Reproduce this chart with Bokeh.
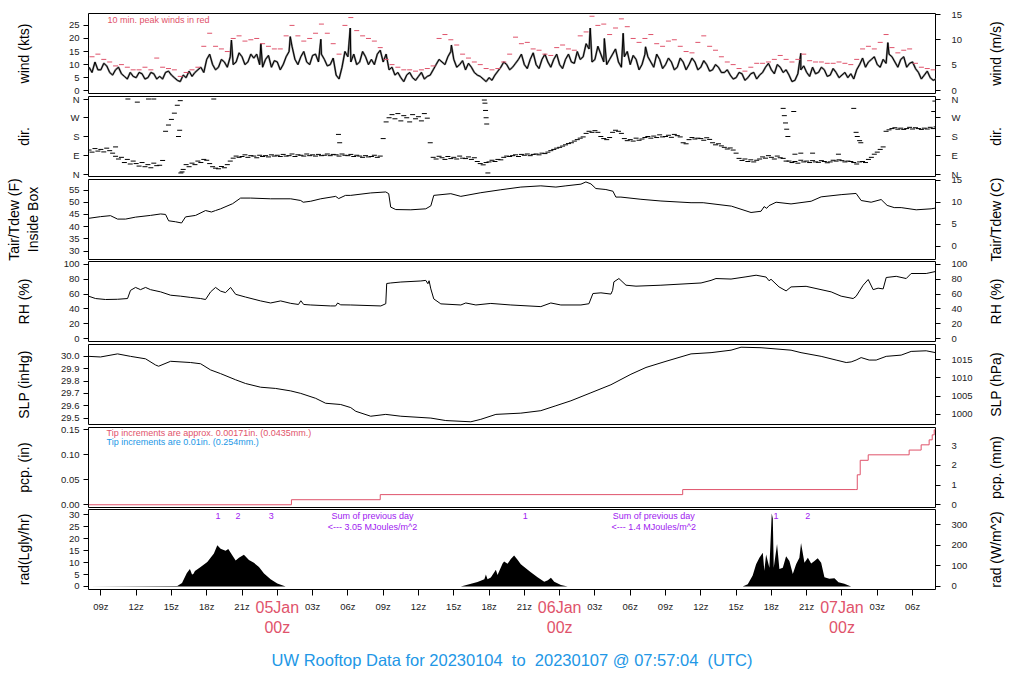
import numpy as np
from bokeh.plotting import figure
from bokeh.models import Range1d, LinearAxis, FixedTicker, Label
from bokeh.layouts import column, row
from bokeh.embed import file_html
from bokeh.resources import INLINE

FONT = "Liberation Sans"
RED = "#DF536B"
BLUE = "#2297E6"
PURPLE = "#A020F0"

# time axis: hours since 2023-01-04 00z
T_START, T_END = 7.95, 79.95

# ---------------- data ----------------
# wind (kts), every 0.5 h from 08z Jan 4
wind_t0 = 8.0
wind_kts = [9, 11, 8, 9.5, 6, 9, 5.5, 7, 5, 6.5, 5, 6.5, 5.5, 7, 6, 4, 6, 7.5, 7, 9,
            12, 10, 9, 11, 13, 11, 13, 11, 12.5, 10, 12, 9, 11, 10, 15, 12, 13, 11, 13.5, 11,
            12, 10, 6, 9, 13, 14, 11, 13, 12, 14, 11, 8, 6, 5, 6, 5, 5.5, 4.5, 6, 10,
            11, 13, 12, 10, 8, 9, 6, 4.5, 5, 6, 9, 10, 9, 12, 10, 12, 10, 12, 11, 12,
            10, 12, 11, 15, 13, 16, 12, 14, 10, 14, 11, 13, 10, 12, 10, 13, 9, 12, 10, 11,
            9, 11, 10, 11, 9, 10, 8, 9, 7, 6, 5, 6.5, 5, 7, 6, 9, 8, 10, 7, 6,
            4, 8, 7, 9, 7, 8, 6, 7, 6, 5, 4.5, 10, 9, 12, 10, 12, 14, 11, 12, 9,
            11, 7, 6, 5, 4.5]
# wind (kts) at the quarter hours in between (8:15z, 8:45z, ...)
wind_q = [7, 8, 10.5, 7, 8, 6.5, 4.5, 5.5, 7, 4.5, 7, 4.5, 4.5, 7.5, 5, 3.5,
          5, 5.5, 8, 7, 14, 8, 12, 9, 10, 14.5, 10, 14, 14, 9, 13.5, 11.5,
          8, 13, 17, 10, 15, 10, 14, 14, 9.5, 12.5, 4.5, 15, 11, 10, 15, 10,
          10, 15.5, 14, 9, 7, 3.5, 7, 4, 7, 5.5, 8, 12, 10, 15, 9, 11.5,
          10.5, 7, 5.5, 3.5, 4, 7.5, 11, 8, 10.5, 14, 8.5, 14.5, 8.5, 14, 9, 14,
          8.5, 14, 10.5, 12, 18, 11, 17, 11, 12, 16, 9, 15, 13.5, 8, 14, 11,
          14, 8.5, 12.5, 8, 12.5, 8, 12.5, 8, 11.5, 7.5, 10, 7, 8, 4.5, 7, 4,
          6.5, 4.5, 7, 10.5, 6.5, 9, 8, 3.5, 6.5, 9.5, 5.5, 6.5, 9, 5.5, 8.5, 5,
          7, 6.5, 8, 12.5, 11, 13, 9, 10.5, 13, 9, 13, 10.5, 8.5, 4.5, 7.5, 4]
# short gust spikes in the wind trace (time h, kts)
spike_t = [20.1, 22.6, 25.1, 27.7, 30.2, 38.8, 50.6, 51.8, 53.4, 55.3, 68.5, 75.9]
spike_kts = [19.4, 18.0, 20.7, 19.7, 24.0, 17.5, 24.0, 20.0, 22.0, 16.8, 14.3, 18.4]
# 10-min peak winds (kts), every 0.5 h from 08:15z Jan 4
peak_t0 = 8.25
peak_kts = [13, 14, 12, 11, 9.5, 10, 9, 8, 8, 9, 8, 12.5, 9, 8.5, 8, 5.5, 7, 8, 9, 17,
            22, 17, 16, 15, 20, 21, 19, 19.5, 20, 18, 17, 16, 16, 21, 25, 21, 19, 20, 22, 25.5,
            22, 18, 14, 25, 28, 23, 21, 20, 19, 16.5, 12, 10, 9, 8, 8, 7.5, 8, 8.5, 9.5, 20,
            21.5, 19.5, 17.5, 14, 12.5, 11, 10, 8.5, 8, 8.5, 11, 14, 20.5, 18, 18.5, 16, 15.5, 14, 13.5, 16.5,
            17.5, 16, 15.5, 21, 22.5, 28.5, 25, 25.5, 21.5, 24, 27.5, 24.5, 20, 18.5, 20, 21.5, 18, 17, 19, 19.5,
            17, 15, 14.5, 18.5, 21, 17, 15.5, 13, 11, 10, 8.5, 7.5, 9, 10.5, 10.5, 11, 12, 13.5, 12, 11,
            12, 14, 11.5, 11, 11, 10.5, 10.5, 11, 10.5, 10, 12, 16, 17, 16, 18.5, 21.5, 16.5, 14.5, 15.5, 16,
            10.5, 9, 8.5, 8]

# wind direction (deg), every 0.25 h from 08z Jan 4
dir_t0 = 8.0
dir_deg = [115, 105, 122, 110, 118, 106, 124, 112, 100, 85, 72, 80, 55, 70, 48, 62,
           50, 38, 55, 35, 45, 30, 52, 40, 42, 65, 205, 235, 262, 292, 330, 352,
           22, 45, 35, 52, 45, 62, 55, 70, 66, 50, 35, 28, 25, 36, 30, 45,
           62, 76, 86, 80, 84, 92, 80, 88, 86, 78, 90, 84, 88, 82, 92, 86,
           90, 84, 94, 86, 88, 96, 84, 92, 90, 86, 96, 88, 92, 86, 94, 88,
           90, 96, 88, 94, 92, 86, 96, 90, 88, 94, 84, 90, 86, 80, 88, 82,
           84, 90, 80, 86, 170, 250, 270, 285, 265, 290, 255, 280, 270, 250, 285, 265,
           275, 255, 290, 268, 150, 80, 72, 85, 78, 70, 84, 74, 80, 72, 86, 76,
           74, 82, 70, 78, 60, 50, 44, 55, 58, 66, 60, 70, 68, 80, 86, 84,
           88, 92, 84, 94, 90, 96, 88, 94, 96, 92, 100, 98, 105, 112, 118, 124,
           128, 134, 140, 146, 150, 158, 165, 172, 178, 195, 205, 200, 208, 200, 180, 170,
           165, 175, 200, 210, 205, 195, 170, 160, 165, 158, 172, 162, 168, 175, 180, 172,
           182, 175, 188, 178, 180, 186, 176, 190, 184, 178, 150, 145, 165, 175, 168, 172,
           170, 162, 174, 166, 150, 140, 145, 135, 128, 120, 125, 115, 100, 75, 65, 72,
           60, 68, 58, 66, 72, 82, 76, 88, 80, 72, 86, 78, 75, 62, 62, 55,
           60, 52, 66, 58, 62, 55, 64, 58, 56, 64, 60, 54, 58, 66, 62, 68,
           64, 58, 62, 60, 55, 48, 58, 60, 55, 70, 80, 95, 105, 118, 130, 205,
           212, 218, 222, 215, 220, 214, 218, 224, 216, 222, 218, 214, 220, 216, 224, 218,
           226]
dir_out_t = [10.25, 11.3, 12.1, 13.05, 13.5, 15.6, 15.7, 15.8, 15.9, 18.6, 29.2, 29.3,
             41.6, 41.65, 41.7, 41.75, 41.8, 41.9, 67.0, 67.1, 67.2, 67.3, 67.4, 67.9,
             68.0, 68.5, 69.5, 71.7, 73.0, 73.2, 73.3, 73.5, 73.6, 79.8, 79.9]
dir_out_deg = [130, 360, 345, 360, 360, 180, 210, 5, 10, 360, 190, 150,
               355, 340, 305, 270, 240, 5, 315, 280, 245, 215, 180, 300,
               95, 100, 100, 95, 315, 200, 180, 160, 150, 300, 350]

# air temperature inside box (F)
temp_t = [7.95, 8.97, 9.82, 10.42, 11.1, 11.95, 13.22, 14.08, 14.5, 14.76, 15.35, 15.86, 16.2,
          17.05, 17.9, 18.4, 18.75, 19.18, 20.2, 20.88, 21.73, 23.43, 25.14, 25.99, 26.2, 26.84,
          27.69, 28.96, 29.22, 29.8, 30.24, 31.94, 33.22, 33.47, 33.64, 34.07, 35.35, 36.62, 37.05,
          37.3, 38.75, 39.6, 41.3, 43.0, 44.7, 46.4, 47.68, 48.53, 49.81, 50.23, 50.66, 51.08,
          51.93, 52.53, 52.78, 53.21, 54.91, 56.61, 59.17, 60.2, 62.6, 64.27, 65.12, 65.38, 65.6,
          65.8, 66.4, 67.67, 69.38, 70.23, 71.93, 73.2, 73.63, 74.48, 75.33, 75.84, 76.44, 77.03,
          78.31, 79.58, 79.95]
temp_f = [43.4, 44.1, 44.5, 43.1, 43.1, 43.9, 44.6, 45.2, 45.0, 42.4, 42.0, 41.5, 44.0,
          44.6, 46.6, 46.0, 46.6, 47.3, 49.4, 51.7, 51.7, 51.4, 51.4, 50.7, 50.0, 50.4,
          51.4, 52.4, 51.5, 52.8, 52.8, 53.8, 54.2, 53.5, 48.0, 47.0, 46.9, 47.3, 48.5,
          52.8, 53.5, 52.4, 53.9, 55.1, 56.2, 56.7, 56.2, 56.7, 57.4, 58.3, 57.5, 55.6,
          55.2, 54.5, 52.1, 52.1, 51.2, 50.5, 49.8, 49.8, 48.4, 45.8, 46.3, 48.2, 47.5,
          48.6, 50.0, 49.3, 50.4, 52.2, 53.1, 53.6, 50.7, 50.0, 51.1, 48.7, 47.8, 47.8,
          46.9, 47.3, 47.6]

# relative humidity (%)
rh_t = [7.95, 8.55, 9.4, 10.42, 11.27, 11.52, 11.95, 12.37, 12.8, 13.22, 14.08, 14.93, 15.78,
        16.63, 17.48, 17.9, 18.33, 18.75, 19.18, 19.6, 20.03, 20.46, 21.3, 22.58, 23.43, 24.28,
        25.14, 25.8, 26.0, 26.24, 26.84, 28.54, 28.96, 29.13, 29.39, 30.24, 32.8, 33.22, 33.3,
        33.64, 34.5, 36.2, 36.62, 36.8, 36.9, 37.05, 37.3, 37.9, 39.6, 40.02, 40.88, 42.15,
        43.85, 46.4, 47.25, 48.1, 49.81, 50.49, 50.83, 51.51, 52.36, 52.5, 52.61, 53.04, 53.64,
        54.49, 56.61, 60.02, 60.87, 61.29, 62.57, 63.84, 64.7, 65.55, 65.8, 65.97, 66.65,
        67.25, 67.67, 68.95, 71.08, 71.93, 72.95, 73.2, 73.8, 74.23, 74.65, 75.07, 75.5, 75.76,
        76.61, 77.46, 77.88, 79.16, 79.95]
rh_pct = [57.2, 54, 52.7, 53, 54, 65, 69, 66, 69, 66, 63, 58.5, 57.2,
          55.5, 54, 52.7, 63, 69, 64, 62, 69, 59.7, 56, 50.8, 48, 50.8,
          47.5, 46, 51, 46, 45.3, 44, 44, 48, 45.5, 45.3, 44, 47, 74.3,
          75, 76.3, 77.7, 78.5, 74, 78, 67, 53.5, 46.8, 45.3, 48, 45.3, 47.4,
          45.3, 43.1, 48, 45.3, 45.3, 47, 60.8, 61.7, 60, 65, 76.5, 81, 72,
          70.7, 72, 75, 78.5, 81, 80.3, 83.3, 85.5, 83, 78, 80, 69.7,
          64.3, 69.7, 70.5, 63, 57.2, 54, 57, 72, 79.7, 66, 68, 67, 82.4,
          84, 81, 87.8, 87.8, 90.5]

# sea level pressure (inHg)
slp_t = [7.95, 8.97, 10.42, 11.52, 12.8, 13.65, 13.91, 14.93, 16.63, 17.48, 18.33, 19.18, 20.46,
         21.3, 22.58, 23.86, 25.14, 25.99, 27.26, 28.11, 29.39, 30.24, 30.67, 31.94, 33.22, 34.5,
         37.05, 38.32, 40.45, 41.3, 42.58, 44.7, 46.4, 47.68, 48.96, 50.66, 52.36, 54.06, 55.34,
         57.04, 59.17, 60.87, 62.57, 63.42, 65.12, 67.67, 68.52, 70.23, 71.5, 72.36, 72.78, 73.2,
         73.63, 74.31, 74.91, 75.76, 77.03, 77.88, 79.16, 79.95]
slp_inhg = [30.0, 29.995, 30.02, 30.0, 29.98, 29.93, 29.92, 29.96, 29.95, 29.94, 29.89, 29.86, 29.81,
            29.78, 29.75, 29.74, 29.72, 29.70, 29.66, 29.62, 29.61, 29.585, 29.555, 29.515, 29.53, 29.515,
            29.5, 29.48, 29.47, 29.49, 29.53, 29.54, 29.56, 29.60, 29.64, 29.705, 29.77, 29.855, 29.91,
            29.96, 30.02, 30.03, 30.05, 30.074, 30.07, 30.05, 30.03, 30.0, 29.97, 29.95, 29.955, 29.97,
            29.99, 29.97, 29.97, 30.0, 30.01, 30.04, 30.045, 30.03]

# accumulated precipitation (in)
pcp_t = [7.95, 25.2, 32.75, 58.46, 73.12, 73.3, 73.55, 74.23, 77.71, 78.73, 79.41, 79.67, 79.84, 79.95]
pcp_in = [0.0, 0.0101, 0.0203, 0.0304, 0.0304, 0.06, 0.089, 0.1, 0.1095, 0.12, 0.13, 0.14, 0.15, 0.15]

# solar radiation (Langley/hr)
rad_t = [7.95, 15.5, 15.9, 16.3, 16.57, 16.75, 16.86, 17.0, 17.48, 18.05, 18.61, 18.9, 19.18, 19.6,
         19.83, 20.17, 20.46, 20.74, 21.16, 21.59, 22.01, 22.44, 22.87, 23.43, 24.0, 24.71,
         39.6, 41.02, 41.6, 41.73, 41.87, 42.15, 42.58, 42.72, 43.15, 43.28, 43.57, 43.85, 44.13,
         44.42, 44.7, 44.99, 45.55, 46.12, 46.69, 47.0, 47.26, 47.54, 48.11, 48.68,
         63.56, 63.99, 64.41, 64.7, 64.98, 65.27, 65.4, 65.55, 65.83, 66.03, 66.12, 66.2, 66.48,
         66.68, 66.97, 67.25, 67.53, 67.82, 68.1, 68.38, 68.52, 68.81, 69.1, 69.38, 69.66, 69.94,
         70.23, 70.51, 70.93, 71.36, 71.7, 72.2, 72.78, 79.95]
rad_ly = [0.0, 0.2, 1.5, 5.5, 7.3, 5.0, 5.2, 6.5, 8.2, 10.3, 13.8, 17.3, 15.8, 15.0,
          15.7, 13.1, 10.9, 12.0, 13.3, 11.1, 9.9, 8.2, 5.4, 3.0, 1.3, 0.0,
          0.0, 1.9, 3.0, 5.0, 3.0, 3.8, 7.0, 4.8, 9.6, 10.5, 9.5, 11.5, 13.0,
          11.2, 9.3, 8.2, 6.0, 3.9, 2.0, 2.6, 3.7, 2.0, 0.6, 0.0,
          0.0, 0.9, 4.6, 9.3, 12.0, 14.1, 6.6, 13.4, 7.9, 30.6, 28.5, 7.9, 17.8,
          7.3, 7.9, 12.7, 10.7, 5.2, 9.3, 12.0, 18.2, 10.0, 12.0, 9.6, 10.7, 11.8,
          10.0, 3.9, 3.2, 3.5, 1.8, 1.1, 0.0, 0.0]
rad_mark_t = [18.95, 20.65, 23.49, 45.07, 66.4, 69.1]
rad_mark_txt = ["1", "2", "3", "1", "1", "2"]
day_sum_t = [32.1, 56.0]
day_sum_mj = ["3.05", "1.4"]

# x-axis ticks
hour_ticks = list(range(9, 79, 3))
day_ticks = [0, 24, 48, 72]
day_names = ["04Jan", "05Jan", "06Jan", "07Jan"]
NB = "\u00a0"
TITLE = ("UW Rooftop Data for 20230104" + NB + " to " + NB + "20230107 @ 07:57:04 "
         + NB + "(UTC)")

# ---------------- layout helpers ----------------
FRAME_W, FRAME_H = 847, 80
PX_PER_H = FRAME_W / (T_END - T_START)
PAD = 7          # extra room above/below each frame so edge tick labels are not clipped
MAIN_RIGHT = 45  # right border of a panel (tick labels)
SIDE_W = 43      # strip that carries the right-hand titles
xr = Range1d(T_START, T_END)


def style_axis(ax, ticks, labels, standoff, title=None, title_standoff=0):
    ax.ticker = FixedTicker(ticks=ticks)
    ax.major_label_overrides = {t: s for t, s in zip(ticks, labels)}
    ax.major_tick_out = 5
    ax.major_tick_in = 0
    ax.minor_tick_out = 0
    ax.minor_tick_in = 0
    ax.major_tick_line_color = "black"
    ax.axis_line_color = None
    ax.major_label_text_font = FONT
    ax.major_label_text_font_size = "9.5px"
    ax.major_label_text_color = "#222222"
    ax.major_label_standoff = standoff
    if title:
        ax.axis_label = title
        ax.axis_label_standoff = title_standoff
        ax.axis_label_text_font = FONT
        ax.axis_label_text_font_size = "14px"
        ax.axis_label_text_font_style = "normal"
        ax.axis_label_text_color = "black"


def no_frame_align(fig):
    if "frame_align" in fig.properties():
        fig.frame_align = False


def make_panel(ylim, rlim, lticks, llabs, rticks, rlabs, ltitle, lstand, rtitle,
               top, bottom, first=False, last=False):
    btop = top + (0 if first else PAD)
    bbot = bottom + (0 if last else PAD)
    p = figure(frame_width=FRAME_W, frame_height=FRAME_H, x_range=xr,
               y_range=Range1d(*ylim), output_backend="svg", toolbar_location=None,
               x_axis_location="below" if last else None, title=None,
               min_border_left=88, min_border_right=MAIN_RIGHT,
               min_border_top=btop, min_border_bottom=bbot)
    p.xgrid.visible = False
    p.ygrid.visible = False
    p.outline_line_color = "black"
    p.outline_line_width = 1
    p.background_fill_color = "white"
    p.border_fill_alpha = 0
    no_frame_align(p)
    style_axis(p.yaxis[0], lticks, llabs, 4, ltitle, lstand)
    p.extra_y_ranges = {"r": Range1d(*rlim)}
    rax = LinearAxis(y_range_name="r")
    style_axis(rax, rticks, rlabs, 11)
    p.add_layout(rax, "right")

    # right-hand title strip (reads bottom-to-top like the left titles)
    h = btop + FRAME_H + bbot
    s = figure(frame_width=SIDE_W, frame_height=h, x_range=Range1d(0, SIDE_W),
               y_range=Range1d(0, h), output_backend="svg", toolbar_location=None,
               x_axis_location=None, y_axis_location=None, title=None, min_border=0)
    s.xgrid.visible = False
    s.ygrid.visible = False
    s.outline_line_color = None
    s.background_fill_alpha = 0
    s.border_fill_alpha = 0
    no_frame_align(s)
    s.add_layout(Label(x=995 - (88 + FRAME_W + MAIN_RIGHT), y=bbot + FRAME_H / 2, text=rtitle,
                       angle=np.pi / 2, text_align="center", text_baseline="middle",
                       text_font=FONT, text_font_size="14px", text_color="black"))
    kw = {} if first else {"styles": {"margin-top": "-%dpx" % (2 * PAD)}}
    return p, row(p, s, **kw)


def ypx(ylim, px_from_top):
    return ylim[1] - px_from_top * (ylim[1] - ylim[0]) / FRAME_H


def text(p, x, y, s, color, align="left", size="9px"):
    p.add_layout(Label(x=x, y=y, text=s, text_align=align, text_baseline="middle",
                       text_font=FONT, text_font_size=size, text_color=color))


# ---------------- panel 1: wind ----------------
KT_PER_MS = 1.94384
wl = (-1.05, 29.55)
p1, r1 = make_panel(wl, (wl[0] / KT_PER_MS, wl[1] / KT_PER_MS), [0, 5, 10, 15, 20, 25],
                    ["0", "5", "10", "15", "20", "25"], [0, 5, 10, 15], ["0", "5", "10", "15"],
                    "wind (kts)", 34, "wind (m/s)", 13, 1, first=True)
wt = (list(wind_t0 + 0.5 * np.arange(len(wind_kts))) +
      list(wind_t0 + 0.25 + 0.5 * np.arange(len(wind_q))) + spike_t)
wv = list(wind_kts) + list(wind_q) + spike_kts
order = np.argsort(wt)
wt = np.array(wt)[order]
wv = np.array(wv)[order]
p1.line(wt, wv, line_color="#808080", line_width=2)
p1.line(wt, wv, line_color="black", line_width=1)
pt = peak_t0 + 0.5 * np.arange(len(peak_kts))
p1.scatter(pt, peak_kts, marker="dash", size=5, line_color=RED, line_width=1)
text(p1, T_START + 19 / PX_PER_H, ypx(wl, 6), "10 min. peak winds in red", RED)

# ---------------- panel 2: direction ----------------
dl = (-12, 372)
dticks = [0, 90, 180, 270, 360]
dlabs = ["N", "E", "S", "W", "N"]
p2, r2 = make_panel(dl, dl, dticks, dlabs, dticks, dlabs, "dir.", 36, "dir.", 2, 1)
dt = dir_t0 + 0.25 * np.arange(len(dir_deg))
p2.scatter(dt, dir_deg, marker="dash", size=5, line_color="black", line_width=1)
p2.scatter(dir_out_t, dir_out_deg, marker="dash", size=5, line_color="black", line_width=1)

# ---------------- panel 3: temperature ----------------
tl = (26.56, 59.3)
p3, r3 = make_panel(tl, ((tl[0] - 32) / 1.8, (tl[1] - 32) / 1.8), [30, 35, 40, 45, 50, 55],
                    ["30", "35", "40", "45", "50", "55"], [0, 5, 10, 15], ["0", "5", "10", "15"],
                    "Tair/Tdew (F)\nInside Box", 25, "Tair/Tdew (C)", 2, 0)
p3.line(temp_t, temp_f, line_color="black", line_width=1)

# ---------------- panel 4: RH ----------------
rl = (-4, 104)
rhticks = [0, 20, 40, 60, 80, 100]
rhlabs = ["0", "20", "40", "60", "80", "100"]
p4, r4 = make_panel(rl, rl, rhticks, rhlabs, rhticks, rhlabs, "RH (%)", 29, "RH (%)", 2, 1)
p4.line(rh_t, rh_pct, line_color="black", line_width=1)

# ---------------- panel 5: SLP ----------------
sl = (29.448, 30.096)
HPA = 33.8639
p5, r5 = make_panel(sl, (sl[0] * HPA, sl[1] * HPA), [29.5, 29.6, 29.7, 29.8, 29.9, 30.0],
                    ["29.5", "29.6", "29.7", "29.8", "29.9", "30.0"], [1000, 1005, 1010, 1015],
                    ["1000", "1005", "1010", "1015"], "SLP (inHg)", 26, "SLP (hPa)", 2, 1)
p5.line(slp_t, slp_inhg, line_color="black", line_width=1)

# ---------------- panel 6: precipitation ----------------
pl = (-0.0055, 0.1547)
p6, r6 = make_panel(pl, (pl[0] * 25.4, pl[1] * 25.4), [0, 0.05, 0.1, 0.15],
                    ["0.00", "0.05", "0.10", "0.15"], [0, 1, 2, 3], ["0", "1", "2", "3"],
                    "pcp. (in)", 26, "pcp. (mm)", 2, 0)
p6.step(pcp_t, pcp_in, mode="after", line_color=RED, line_width=1)
text(p6, T_START + 18 / PX_PER_H, ypx(pl, 5.7), "Tip increments are approx. 0.00171in. (0.0435mm.)", RED)
text(p6, T_START + 18 / PX_PER_H, ypx(pl, 14.7), "Tip increments are 0.01in. (0.254mm.)", BLUE)

# ---------------- panel 7: radiation ----------------
LY2W = 11.63
al = (-1.26, 32.26)
p7, r7 = make_panel(al, (al[0] * LY2W, al[1] * LY2W), [0, 5, 10, 15, 20, 25, 30],
                    ["0", "5", "10", "15", "20", "25", "30"], [0, 100, 200, 300],
                    ["0", "100", "200", "300"], "rad(Lgly/hr)", 34, "rad (W/m^2)", 2, 0,
                    last=True)
p7.varea(x=rad_t, y1=[0] * len(rad_t), y2=rad_ly, fill_color="black")
for t, s in zip(rad_mark_t, rad_mark_txt):
    text(p7, t, ypx(al, 6), s, PURPLE, align="center")
for t, s in zip(day_sum_t, day_sum_mj):
    text(p7, t, ypx(al, 6.5), "Sum of previous day", PURPLE, align="center")
    text(p7, t, ypx(al, 17), "<--- %s MJoules/m^2" % s, PURPLE, align="center")

xa = p7.xaxis[0]
xa.ticker = FixedTicker(ticks=hour_ticks)
xa.major_label_overrides = {t: ("%02dz" % (t % 24)) if t % 24 else "" for t in hour_ticks}
xa.major_tick_out = 6
xa.major_tick_in = 0
xa.minor_tick_out = 0
xa.minor_tick_in = 0
xa.axis_line_color = None
xa.major_label_text_font = FONT
xa.major_label_text_font_size = "9.5px"
xa.major_label_text_color = "#222222"
xa.major_label_standoff = 5

# day labels (red) and page title (blue) on a second bottom axis
da = LinearAxis(ticker=FixedTicker(ticks=day_ticks),
                major_label_overrides={t: "%s\n00z" % s for t, s in zip(day_ticks, day_names)})
da.major_tick_out = 0
da.major_tick_in = 0
da.minor_tick_out = 0
da.minor_tick_in = 0
da.axis_line_color = None
da.major_label_text_font = FONT
da.major_label_text_font_size = "16px"
da.major_label_text_color = RED
da.major_label_standoff = -16
da.axis_label = TITLE
da.axis_label_standoff = 12
da.axis_label_text_font = FONT
da.axis_label_text_font_size = "16.5px"
da.axis_label_text_font_style = "normal"
da.axis_label_text_color = BLUE
p7.add_layout(da, "below")
p7.min_border_bottom = 10

layout = column(r1, r2, r3, r4, r5, r6, r7)
open("out.html", "w").write(file_html(layout, INLINE, title="UW Rooftop Data"))
